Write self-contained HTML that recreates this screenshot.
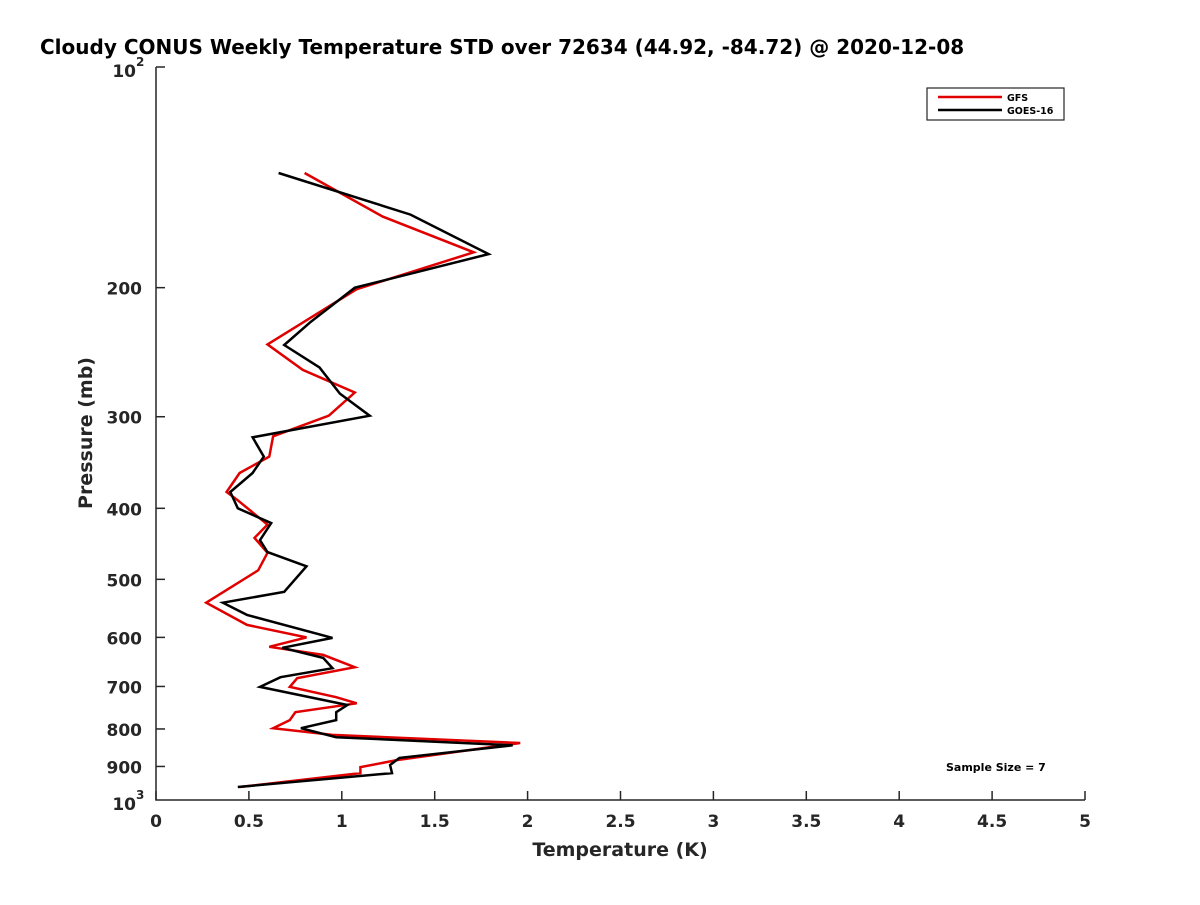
<!DOCTYPE html>
<html><head><meta charset="utf-8"><style>
body{margin:0;background:#fff;}
svg text{font-family:"DejaVu Sans","Liberation Sans",sans-serif;font-weight:bold;fill:#262626;}
</style></head><body>
<svg id="chart" width="1200" height="900" xmlns="http://www.w3.org/2000/svg">
<rect width="1200" height="900" fill="#fff"/>
<text x="40" y="54" font-size="20" style="fill:#000">Cloudy CONUS Weekly Temperature STD over 72634 (44.92, -84.72) @ 2020-12-08</text>
<g id="axes"></g>
<g id="series"></g>
<text x="620" y="856" font-size="19" text-anchor="middle">Temperature (K)</text>
<text transform="translate(92,433) rotate(-90)" font-size="19" text-anchor="middle">Pressure (mb)</text>
<text x="946" y="771" font-size="11" style="fill:#000">Sample Size = 7</text>
<g>
<rect x="927" y="88" width="137" height="32" fill="#fff" stroke="#262626" stroke-width="1.2"/>
<line x1="938" y1="97" x2="1002" y2="97" stroke="#e00000" stroke-width="2.5"/>
<text x="1007" y="101" font-size="9.5" style="fill:#000">GFS</text>
<line x1="938" y1="110" x2="1002" y2="110" stroke="#000" stroke-width="2.5"/>
<text x="1007" y="114" font-size="9.5" style="fill:#000">GOES-16</text>
</g>
</svg>
<script>
const xTicks=[0,0.5,1,1.5,2,2.5,3,3.5,4,4.5,5];
const xTickLabels=["0","0.5","1","1.5","2","2.5","3","3.5","4","4.5","5"];
const yTicks=[200,300,400,500,600,700,800,900];
const gfsTemp=[0.80,1.22,1.71,1.08,0.60,0.79,1.07,0.93,0.63,0.61,0.45,0.38,0.44,0.60,0.53,0.60,0.55,0.27,0.49,0.81,0.61,0.90,1.07,0.76,0.72,0.97,1.08,0.75,0.72,0.63,0.95,1.96,1.30,1.10,1.10,0.45];
const gfsPres=[139.5,160,179,201,239,259,278,299,319,340,358,380,390,421,439,460,486,538,577,600,618,634,659,682,701,724,738,759,778,798,815,836,882,902,919,960];
const goesTemp=[0.66,1.37,1.79,1.07,0.83,0.69,0.88,0.99,1.15,0.52,0.58,0.52,0.40,0.44,0.62,0.56,0.60,0.81,0.69,0.36,0.49,0.95,0.68,0.90,0.95,0.67,0.56,1.03,0.97,0.97,0.78,0.97,1.92,1.31,1.26,1.27,0.44];
const goesPres=[139.5,159,180,200,223,239.5,257,279,299,320,340,358,380,400,419,442,459,480,520,538,559,601,620,640,661,680,701,742,759,778,798,821,842,876,896,919,960];

const NS="http://www.w3.org/2000/svg";
const X0=156,X1=1085,Y0=67,Y1=800;
function xs(v){return X0+(v-0)/(5-0)*(X1-X0);}
function ys(p){return Y0+(Math.log10(p)-2)*(Y1-Y0);}
function mk(tag,attrs,parent){const e=document.createElementNS(NS,tag);for(const k in attrs)e.setAttribute(k,attrs[k]);parent.appendChild(e);return e;}
const axes=document.getElementById('axes');
let a=mk('path',{d:`M${X0},${Y0} L${X0},${Y1} L${X1},${Y1}`,fill:'none',stroke:'#262626','stroke-width':1.5},axes);


let t0=mk('line',{x1:X0,y1:Y0,x2:X0+9,y2:Y0,stroke:'#262626','stroke-width':1.5},axes);


xTicks.forEach((v,i)=>{
  const x=xs(v);
  const l=mk('line',{x1:x,y1:Y1,x2:x,y2:Y1-9,stroke:'#262626','stroke-width':1.5},axes);
  
  
  const t=mk('text',{x:x,y:Y1+27,'font-size':17,'text-anchor':'middle'},axes);
  t.textContent=xTickLabels[i];
  
  
});
yTicks.forEach(p=>{
  const y=ys(p);
  const l=mk('line',{x1:X0,y1:y,x2:X0+9,y2:y,stroke:'#262626','stroke-width':1.5},axes);
  
  
  const t=mk('text',{x:X0-14,y:y+7,'font-size':17,'text-anchor':'end'},axes);
  t.textContent=String(p);
  
  
});
[[100,'2'],[1000,'3']].forEach(([p,e])=>{
  const y=ys(p);
  const t=mk('text',{x:X0-20,y:y+10,'font-size':17,'text-anchor':'end'},axes);
  t.textContent='10';
  
  
  const s=mk('text',{x:X0-20,y:y-1,'font-size':12},axes);
  s.textContent=e;
  
  
});
const series=document.getElementById('series');
function line(T,P,color,name){
  const d=T.map((v,i)=>(i?'L':'M')+xs(v).toFixed(1)+','+ys(P[i]).toFixed(1)).join(' ');
  const el=mk('path',{d:d,fill:'none',stroke:color,'stroke-width':2.5,'stroke-linejoin':'miter'},series);
  
  
}
line(gfsTemp,gfsPres,'#e00000','gfs-line');
line(goesTemp,goesPres,'#000000','goes16-line');
</script>
</body></html>
